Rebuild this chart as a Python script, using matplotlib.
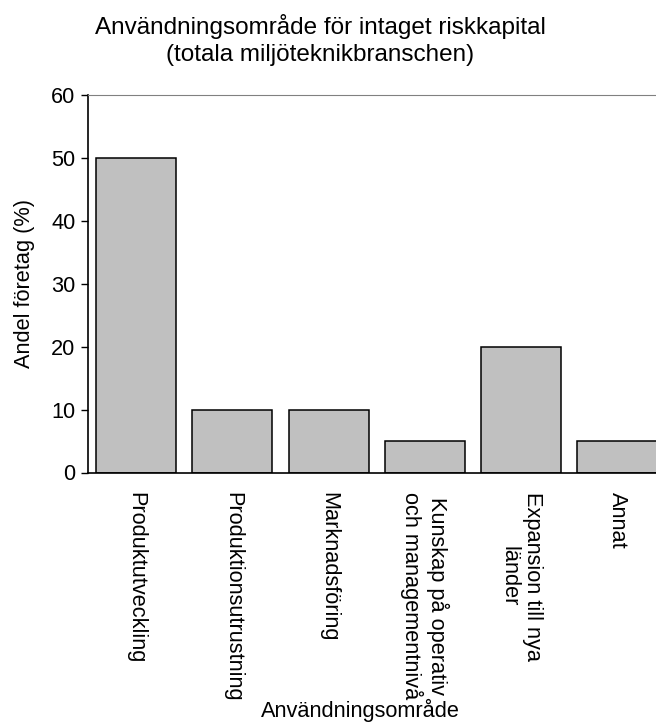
import numpy as np
import matplotlib.pyplot as plt

plt.rcParams['font.family'] = ['Liberation Sans', 'DejaVu Sans']

# andel företag per användningsområde
kategorier = ['Produktutveckling', 'Produktionsutrustning', 'Marknadsföring',
              'Kunskap på operativ\noch managementnivå', 'Expansion till nya\nländer', 'Annat']
andel = [50, 10, 10, 5, 20, 5]

fs = 15.7

fig = plt.figure(figsize=(6.56, 7.24), dpi=100)
ax = fig.add_axes([88/656, 1-472.5/724, 577.5/656, 377.5/724])

x = np.arange(len(kategorier))
ax.bar(x, andel, width=0.83, color='#c0c0c0', edgecolor='black', linewidth=1.1)

ax.set_xlim(-0.5, len(kategorier)-0.5)
ax.set_ylim(0, 60)
ax.set_yticks(range(0, 61, 10))
ax.tick_params(axis='y', labelsize=fs, length=5, width=1, direction='out', pad=4)
ax.set_xticks(x)
ax.set_xticklabels(kategorier, rotation=270, fontsize=fs, va='top', ha='center',
                   multialignment='center', linespacing=1.15)
ax.tick_params(axis='x', length=0, pad=14)

ax.spines['right'].set_visible(False)
ax.spines['top'].set_color('#808080')
ax.spines['left'].set_linewidth(1.2)
ax.spines['bottom'].set_linewidth(1.2)

ax.set_ylabel('Andel företag (%)', fontsize=fs, labelpad=12)
fig.text(360/656, 1-710/724, 'Användningsområde', fontsize=fs, ha='center', va='center')
fig.text(320/656, 1-40/724, 'Användningsområde för intaget riskkapital\n(totala miljöteknikbranschen)',
         fontsize=17.5, ha='center', va='center', linespacing=1.3)

fig.savefig('out.png', dpi=100)
